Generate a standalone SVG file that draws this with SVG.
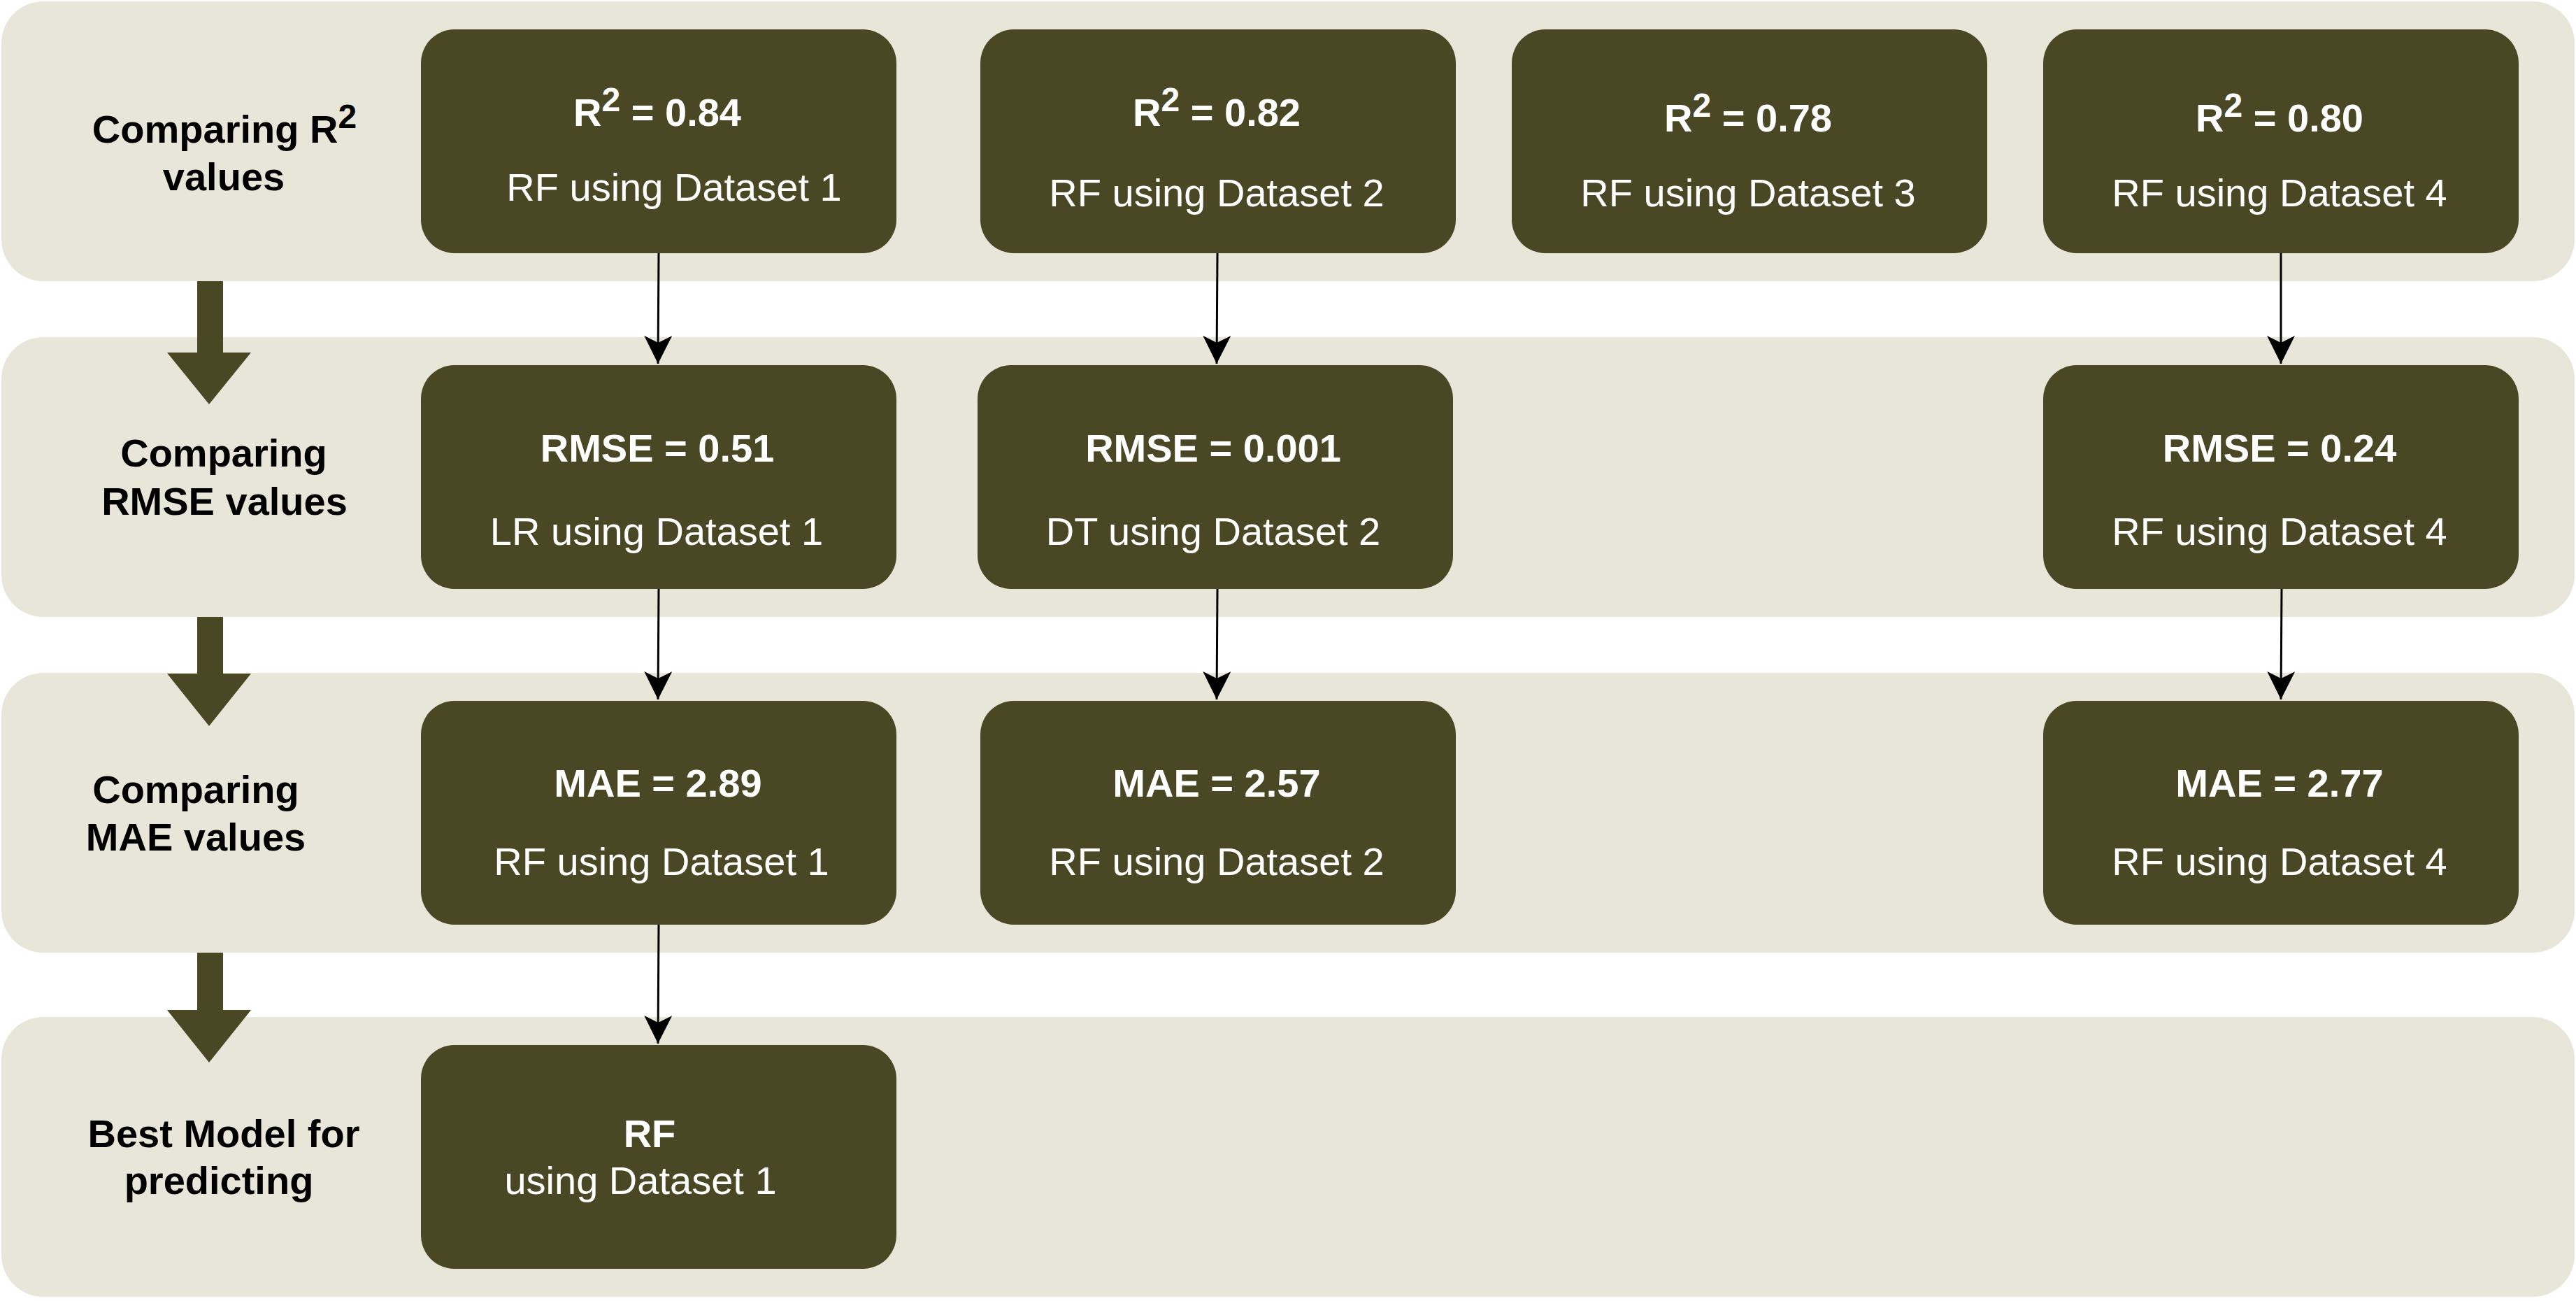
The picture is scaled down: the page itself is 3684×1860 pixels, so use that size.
<svg xmlns="http://www.w3.org/2000/svg" width="3684" height="1860" viewBox="0 0 3684 1860">
<defs>
<style>
.lane{fill:#E8E6D9}
.node{fill:#4A4725}
.lbl{font-family:"Liberation Sans",Arial,sans-serif;font-size:56px;font-weight:bold;fill:#000;text-anchor:middle}
.t{font-family:"Liberation Sans",Arial,sans-serif;font-size:56px;font-weight:bold;fill:#fff;text-anchor:middle}
.s{font-family:"Liberation Sans",Arial,sans-serif;font-size:56px;fill:#fff;text-anchor:middle}
.con{stroke:#000;stroke-width:3;fill:none}
.big{fill:#4A4725}
</style>
<marker id="ah" markerUnits="userSpaceOnUse" markerWidth="40" markerHeight="40" viewBox="0 0 36 36" refX="36" refY="18" orient="auto">
<path d="M36,18 L0,0 L9,18 L0,36 Z" fill="#000"/>
</marker>
</defs>
<rect width="3684" height="1860" fill="#fff"/>

<g id="lanes">
<g id="lane1"><rect class="lane" x="2" y="2" width="3680" height="400" rx="60"/>
<text class="lbl" x="321" y="204">Comparing R<tspan font-size="48" dy="-21">2</tspan></text>
<text class="lbl" x="320" y="272">values</text></g>
<g id="lane2"><rect class="lane" x="2" y="482" width="3680" height="400" rx="60"/>
<text class="lbl" x="320" y="667">Comparing</text>
<text class="lbl" x="321" y="736">RMSE values</text></g>
<g id="lane3"><rect class="lane" x="2" y="962" width="3680" height="400" rx="60"/>
<text class="lbl" x="280" y="1148">Comparing</text>
<text class="lbl" x="280" y="1216">MAE values</text></g>
<g id="lane4"><rect class="lane" x="2" y="1454" width="3680" height="400" rx="60"/>
<text class="lbl" x="320" y="1640">Best Model for</text>
<text class="lbl" x="313" y="1707">predicting</text></g>
</g>

<g id="flow-arrows">
<path class="big" d="M282,402 H319 V504 H359 L299,578 L239,504 H282 Z"/>
<path class="big" d="M282,882 H319 V963 H359 L299,1038 L239,963 H282 Z"/>
<path class="big" d="M282,1362 H319 V1444 H359 L299,1519 L239,1444 H282 Z"/>
</g>

<g id="n-r2-d1"><rect class="node" x="602" y="42" width="680" height="320" rx="48"/>
<text class="t" x="940" y="180">R<tspan font-size="48" dy="-21">2</tspan><tspan dy="21"> = 0.84</tspan></text>
<text class="s" x="964" y="287">RF using Dataset 1</text></g>
<g id="n-r2-d2"><rect class="node" x="1402" y="42" width="680" height="320" rx="48"/>
<text class="t" x="1740" y="180">R<tspan font-size="48" dy="-21">2</tspan><tspan dy="21"> = 0.82</tspan></text>
<text class="s" x="1740" y="295">RF using Dataset 2</text></g>
<g id="n-r2-d3"><rect class="node" x="2162" y="42" width="680" height="320" rx="48"/>
<text class="t" x="2500" y="188">R<tspan font-size="48" dy="-21">2</tspan><tspan dy="21"> = 0.78</tspan></text>
<text class="s" x="2500" y="295">RF using Dataset 3</text></g>
<g id="n-r2-d4"><rect class="node" x="2922" y="42" width="680" height="320" rx="48"/>
<text class="t" x="3260" y="188">R<tspan font-size="48" dy="-21">2</tspan><tspan dy="21"> = 0.80</tspan></text>
<text class="s" x="3260" y="295">RF using Dataset 4</text></g>

<g id="n-rmse-d1"><rect class="node" x="602" y="522" width="680" height="320" rx="48"/>
<text class="t" x="940" y="660">RMSE = 0.51</text>
<text class="s" x="939" y="779">LR using Dataset 1</text></g>
<g id="n-rmse-d2"><rect class="node" x="1398" y="522" width="680" height="320" rx="48"/>
<text class="t" x="1735" y="660">RMSE = 0.001</text>
<text class="s" x="1735" y="779">DT using Dataset 2</text></g>
<g id="n-rmse-d4"><rect class="node" x="2922" y="522" width="680" height="320" rx="48"/>
<text class="t" x="3260" y="660">RMSE = 0.24</text>
<text class="s" x="3260" y="779">RF using Dataset 4</text></g>

<g id="n-mae-d1"><rect class="node" x="602" y="1002" width="680" height="320" rx="48"/>
<text class="t" x="941" y="1139">MAE = 2.89</text>
<text class="s" x="946" y="1251">RF using Dataset 1</text></g>
<g id="n-mae-d2"><rect class="node" x="1402" y="1002" width="680" height="320" rx="48"/>
<text class="t" x="1740" y="1139">MAE = 2.57</text>
<text class="s" x="1740" y="1251">RF using Dataset 2</text></g>
<g id="n-mae-d4"><rect class="node" x="2922" y="1002" width="680" height="320" rx="48"/>
<text class="t" x="3260" y="1139">MAE = 2.77</text>
<text class="s" x="3260" y="1251">RF using Dataset 4</text></g>

<g id="n-best"><rect class="node" x="602" y="1494" width="680" height="320" rx="48"/>
<text class="t" x="929" y="1640">RF</text>
<text class="s" x="916" y="1707">using Dataset 1</text></g>

<g id="connectors">
<line class="con" x1="942" y1="362" x2="941" y2="520" marker-end="url(#ah)"/>
<line class="con" x1="1741" y1="362" x2="1740" y2="520" marker-end="url(#ah)"/>
<line class="con" x1="3262" y1="362" x2="3262" y2="520" marker-end="url(#ah)"/>
<line class="con" x1="942" y1="842" x2="941" y2="1000" marker-end="url(#ah)"/>
<line class="con" x1="1741" y1="842" x2="1740" y2="1000" marker-end="url(#ah)"/>
<line class="con" x1="3263" y1="842" x2="3262" y2="1000" marker-end="url(#ah)"/>
<line class="con" x1="942" y1="1322" x2="941" y2="1492" marker-end="url(#ah)"/>
</g>
</svg>
